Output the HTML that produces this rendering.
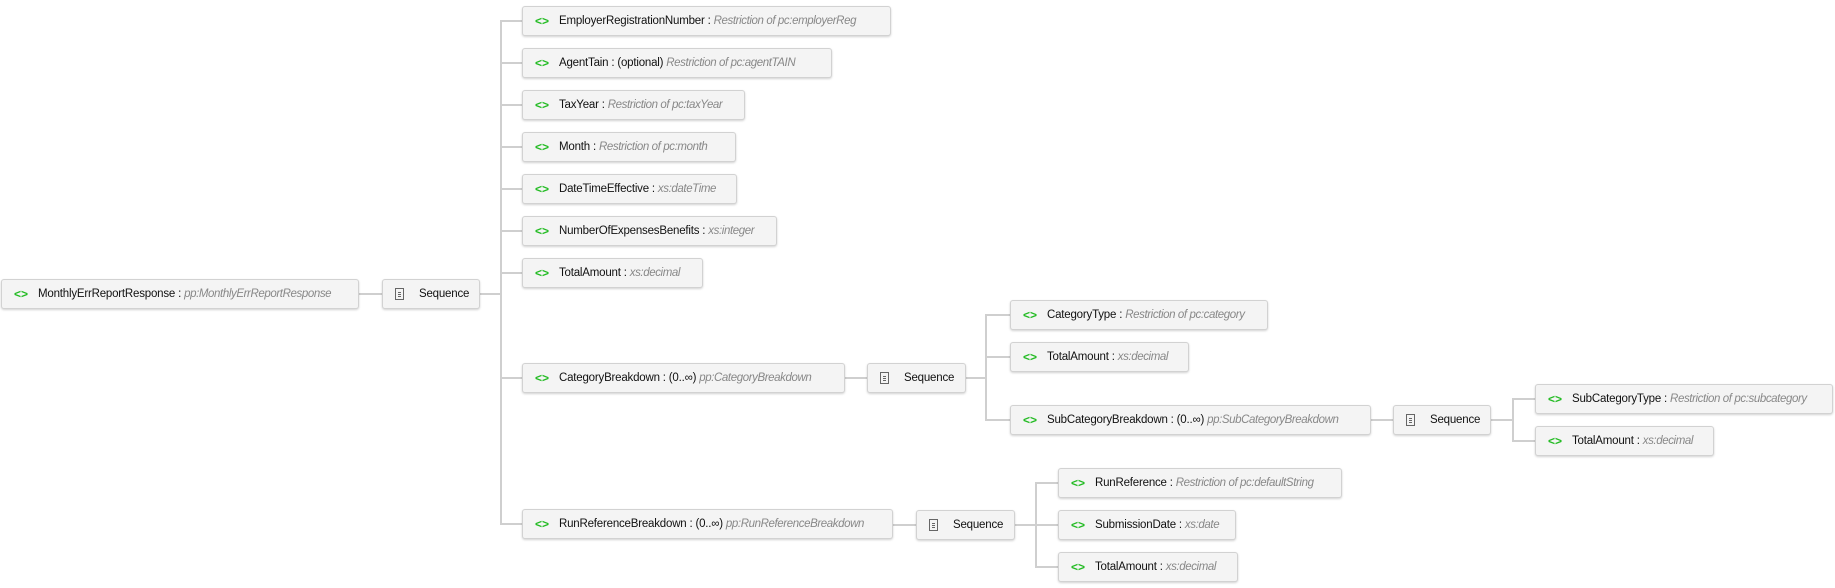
<!DOCTYPE html>
<html><head><meta charset="utf-8"><style>
body{margin:0;width:1835px;height:588px;background:#fff;position:relative;overflow:hidden;font-family:"Liberation Sans",sans-serif;font-size:11.5px;color:#111}
.b{position:absolute;height:30px;box-sizing:border-box;background:#f4f4f4;border:1px solid #d2d2d2;border-radius:3px;box-shadow:0 1px 2px rgba(0,0,0,.18);white-space:nowrap;overflow:hidden;line-height:28px;padding-left:36px;letter-spacing:-0.2px}
.b:before{content:"<>";position:absolute;left:12px;top:0;color:#22bb22;font-weight:bold;font-size:12px;letter-spacing:0}
.s{padding-left:36px}
.s:before{content:"";left:12px;top:8px;width:9px;height:12px;border:1px solid #666;box-sizing:border-box;background:linear-gradient(#666,#666) 2px 3px/3px 1px no-repeat,linear-gradient(#666,#666) 2px 5px/3px 1px no-repeat,linear-gradient(#666,#666) 2px 7px/3px 1px no-repeat}
i{color:#888;letter-spacing:-0.4px}
.h{position:absolute;height:2px;background:#cfcfcf}
.v{position:absolute;width:2px;background:#cfcfcf}
</style></head><body>
<div class="h" style="left:359px;top:293px;width:23px"></div>
<div class="h" style="left:480px;top:293px;width:22px"></div>
<div class="v" style="left:500px;top:20px;height:505px"></div>
<div class="h" style="left:500px;top:20px;width:23px"></div>
<div class="h" style="left:500px;top:62px;width:23px"></div>
<div class="h" style="left:500px;top:104px;width:23px"></div>
<div class="h" style="left:500px;top:146px;width:23px"></div>
<div class="h" style="left:500px;top:188px;width:23px"></div>
<div class="h" style="left:500px;top:230px;width:23px"></div>
<div class="h" style="left:500px;top:272px;width:23px"></div>
<div class="h" style="left:500px;top:377px;width:23px"></div>
<div class="h" style="left:500px;top:523px;width:23px"></div>
<div class="h" style="left:845px;top:377px;width:22px"></div>
<div class="h" style="left:966px;top:377px;width:21px"></div>
<div class="v" style="left:985px;top:314px;height:107px"></div>
<div class="h" style="left:985px;top:314px;width:25px"></div>
<div class="h" style="left:985px;top:356px;width:25px"></div>
<div class="h" style="left:985px;top:419px;width:25px"></div>
<div class="h" style="left:1371px;top:419px;width:22px"></div>
<div class="h" style="left:1491px;top:419px;width:22px"></div>
<div class="v" style="left:1512px;top:398px;height:44px"></div>
<div class="h" style="left:1512px;top:398px;width:23px"></div>
<div class="h" style="left:1512px;top:440px;width:23px"></div>
<div class="h" style="left:893px;top:524px;width:23px"></div>
<div class="h" style="left:1015px;top:524px;width:21px"></div>
<div class="v" style="left:1035px;top:482px;height:86px"></div>
<div class="h" style="left:1035px;top:482px;width:23px"></div>
<div class="h" style="left:1035px;top:524px;width:23px"></div>
<div class="h" style="left:1035px;top:566px;width:23px"></div>
<div class="b" style="left:1px;top:279px;width:358px">MonthlyErrReportResponse : <i>pp:MonthlyErrReportResponse</i></div>
<div class="b s" style="left:382px;top:279px;width:98px">Sequence</div>
<div class="b" style="left:522px;top:6px;width:369px">EmployerRegistrationNumber : <i>Restriction of pc:employerReg</i></div>
<div class="b" style="left:522px;top:48px;width:310px">AgentTain : (optional) <i>Restriction of pc:agentTAIN</i></div>
<div class="b" style="left:522px;top:90px;width:223px">TaxYear : <i>Restriction of pc:taxYear</i></div>
<div class="b" style="left:522px;top:132px;width:214px">Month : <i>Restriction of pc:month</i></div>
<div class="b" style="left:522px;top:174px;width:215px">DateTimeEffective : <i>xs:dateTime</i></div>
<div class="b" style="left:522px;top:216px;width:255px">NumberOfExpensesBenefits : <i>xs:integer</i></div>
<div class="b" style="left:522px;top:258px;width:181px">TotalAmount : <i>xs:decimal</i></div>
<div class="b" style="left:522px;top:363px;width:323px">CategoryBreakdown : (0..∞) <i>pp:CategoryBreakdown</i></div>
<div class="b" style="left:522px;top:509px;width:371px">RunReferenceBreakdown : (0..∞) <i>pp:RunReferenceBreakdown</i></div>
<div class="b s" style="left:867px;top:363px;width:99px">Sequence</div>
<div class="b" style="left:1010px;top:300px;width:258px">CategoryType : <i>Restriction of pc:category</i></div>
<div class="b" style="left:1010px;top:342px;width:179px">TotalAmount : <i>xs:decimal</i></div>
<div class="b" style="left:1010px;top:405px;width:361px">SubCategoryBreakdown : (0..∞) <i>pp:SubCategoryBreakdown</i></div>
<div class="b s" style="left:1393px;top:405px;width:98px">Sequence</div>
<div class="b" style="left:1535px;top:384px;width:298px">SubCategoryType : <i>Restriction of pc:subcategory</i></div>
<div class="b" style="left:1535px;top:426px;width:179px">TotalAmount : <i>xs:decimal</i></div>
<div class="b s" style="left:916px;top:510px;width:99px">Sequence</div>
<div class="b" style="left:1058px;top:468px;width:284px">RunReference : <i>Restriction of pc:defaultString</i></div>
<div class="b" style="left:1058px;top:510px;width:178px">SubmissionDate : <i>xs:date</i></div>
<div class="b" style="left:1058px;top:552px;width:180px">TotalAmount : <i>xs:decimal</i></div>
</body></html>
